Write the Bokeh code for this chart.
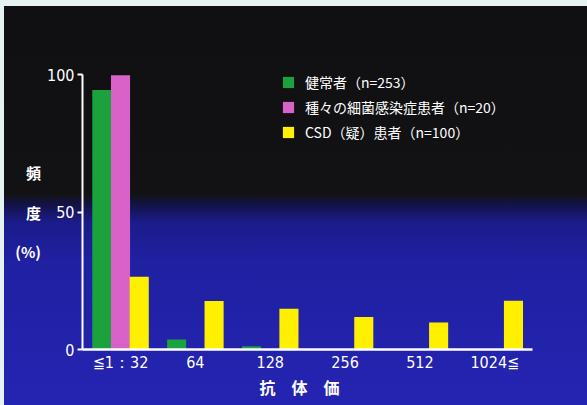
from bokeh.plotting import figure
from bokeh.models import Range1d, FixedTicker, Title
from bokeh.embed import file_html
from bokeh.resources import INLINE

# ---- data ----
categories = ["≦1：32", "64", "128", "256", "512", "1024≦"]
healthy = [94.4, 3.6, 1.2, 0, 0, 0]
infection = [99.7, 0, 0, 0, 0, 0]
csd = [26.5, 17.6, 14.8, 11.8, 9.8, 17.7]
series_names = ["健常者（n=253）", "種々の細菌感染症患者（n=20）", "CSD（疑）患者（n=100）"]
series_colors = ["#1ba23c", "#d862c8", "#fff000"]
y_ticks = [0, 50, 100]
y_title = "頻\n\n度\n\n(%)"
x_title = "抗　体　価"

NUM_FONT = "'DejaVu Sans Condensed', 'Liberation Sans', sans-serif"
JP_FONT = "Noto Sans CJK JP"

p = figure(width=587, height=405, output_backend="svg", toolbar_location=None,
           x_range=Range1d(-0.508, 6.239), y_range=Range1d(0, 100),
           min_border_left=82, min_border_right=0, min_border_top=74, min_border_bottom=56,
           background_fill_color=None, border_fill_color=None, outline_line_color=None)
p.styles = {"background": (
    "linear-gradient(to right, #e6f2f1 0px, #e6f2f1 4px, transparent 4px), "
    "linear-gradient(to bottom, #e6f2f1 0px, #e6f2f1 6px, #101012 6px, #121214 194px, "
    "#13134e 206px, #1b1b8a 222px, #2020a2 262px, #2424b2 405px)")}
p.grid.visible = False

idx = list(range(len(categories)))
bw = 0.255
for vals, off, name, col in zip([healthy, infection, csd], [-0.25, 0.0, 0.25], series_names, series_colors):
    p.vbar(x=[i + off for i in idx], top=vals, width=bw, bottom=0,
           fill_color=col, line_color=None, legend_label=name)

# x axis
xa = p.xaxis[0]
xa.ticker = FixedTicker(ticks=idx)
xa.major_label_overrides = {i: c for i, c in zip(idx, categories)}
xa.bounds = (-0.508, 5.5)
xa.axis_line_color = "white"
xa.axis_line_width = 2.5
xa.major_tick_line_color = None
xa.major_tick_out = 0
xa.major_tick_in = 0
xa.minor_tick_line_color = None
xa.minor_tick_out = 0
xa.major_label_text_color = "white"
xa.major_label_text_font = NUM_FONT
xa.major_label_text_font_size = "16px"
xa.major_label_standoff = 3

# y axis
ya = p.yaxis[0]
ya.ticker = FixedTicker(ticks=y_ticks)
ya.bounds = (0, 100)
ya.axis_line_color = "white"
ya.axis_line_width = 2
ya.major_tick_line_color = "white"
ya.major_tick_line_width = 2
ya.major_tick_out = 5
ya.major_tick_in = 0
ya.minor_tick_line_color = None
ya.major_label_text_color = "white"
ya.major_label_text_font = NUM_FONT
ya.major_label_text_font_size = "16px"
ya.major_label_standoff = 3
ya.axis_label = y_title
ya.axis_label_orientation = "horizontal"
ya.axis_label_text_align = "center"
ya.axis_label_text_color = "white"
ya.axis_label_text_font = JP_FONT
ya.axis_label_text_font_size = "15px"
ya.axis_label_text_font_style = "bold"
ya.axis_label_text_line_height = 0.95
ya.axis_label_standoff = 3

# x title
p.add_layout(Title(text=x_title, align="left", offset=177, text_color="white",
                   text_font=JP_FONT, text_font_size="16px", text_font_style="bold",
                   standoff=-3), "below")

# legend
lg = p.legend[0]
lg.location = (199, 207)
lg.padding = 0
lg.margin = 0
lg.spacing = 5
lg.glyph_width = 14
lg.glyph_height = 14
lg.label_height = 14
lg.label_standoff = 10
lg.label_text_color = "white"
lg.label_text_font = JP_FONT
lg.label_text_font_size = "14px"
lg.background_fill_alpha = 0
lg.border_line_alpha = 0

open("out.html", "w").write(file_html(p, INLINE))
